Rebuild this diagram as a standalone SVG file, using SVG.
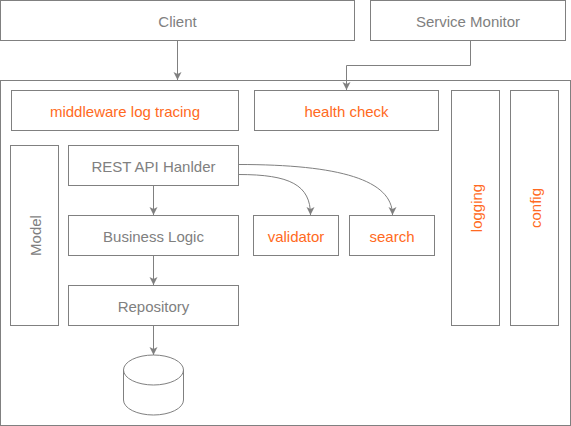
<svg xmlns="http://www.w3.org/2000/svg" width="571" height="426" viewBox="0 0 571 426">
<style>
rect, .cyl { fill: #ffffff; stroke: #808080; stroke-width: 1; }
text { font-family: "Liberation Sans", Arial, sans-serif; font-size: 15px; text-anchor: middle; dominant-baseline: central; }
.g { fill: #808080; }
.o { fill: #ff6a22; }
.c { fill: none; stroke: #808080; stroke-width: 1; }
</style>
<defs>
<marker id="ah" markerWidth="10" markerHeight="10" refX="8" refY="4" orient="auto" markerUnits="userSpaceOnUse">
<path d="M0,0 L8,4 L0,8 L2,4 Z" fill="#808080"/>
</marker>
</defs>
<g id="client"><rect x="0.5" y="0.5" width="354" height="40"/><text class="g" x="177.5" y="21">Client</text></g>
<g id="service-monitor"><rect x="370.5" y="0.5" width="195" height="40"/><text class="g" x="468" y="21">Service Monitor</text></g>
<g id="container"><rect x="0.5" y="80.5" width="570" height="345"/></g>
<g id="middleware"><rect x="11.5" y="90.5" width="227" height="40"/><text class="o" x="125" y="111">middleware log tracing</text></g>
<g id="health-check"><rect x="254.5" y="90.5" width="184" height="40"/><text class="o" x="346.5" y="111">health check</text></g>
<g id="logging"><rect x="451.5" y="90.5" width="48" height="235"/><text class="o" transform="translate(476,208) rotate(-90)">logging</text></g>
<g id="config"><rect x="510.5" y="90.5" width="48" height="235"/><text class="o" transform="translate(535,208) rotate(-90)">config</text></g>
<g id="model"><rect x="10.5" y="145.5" width="48" height="180"/><text class="g" transform="translate(35,235.5) rotate(-90)">Model</text></g>
<g id="rest"><rect x="68.5" y="145.5" width="170" height="40"/><text class="g" x="153.5" y="166">REST API Hanlder</text></g>
<g id="business"><rect x="68.5" y="215.5" width="170" height="40"/><text class="g" x="153.5" y="236">Business Logic</text></g>
<g id="validator"><rect x="253.5" y="215.5" width="85" height="40"/><text class="o" x="296" y="236">validator</text></g>
<g id="search"><rect x="349.5" y="215.5" width="85" height="40"/><text class="o" x="392" y="236">search</text></g>
<g id="repository"><rect x="68.5" y="285.5" width="170" height="40"/><text class="g" x="153.5" y="306">Repository</text></g>
<g id="database">
<path class="cyl" d="M123.5,370 L123.5,400 A30,15 0 0 0 183.5,400 L183.5,370 A30,15 0 0 0 123.5,370 Z"/>
<path class="c" d="M123.5,370 A30,15 0 0 0 183.5,370"/>
</g>
<g id="connectors">
<path class="c" d="M177.5,40.5 L177.5,80" marker-end="url(#ah)"/>
<path class="c" d="M470.5,40.5 L470.5,65.5 L346.5,65.5 L346.5,90" marker-end="url(#ah)"/>
<path class="c" d="M153.5,185.5 L153.5,215" marker-end="url(#ah)"/>
<path class="c" d="M153.5,255.5 L153.5,285" marker-end="url(#ah)"/>
<path class="c" d="M153.5,325.5 L153.5,355" marker-end="url(#ah)"/>
<path class="c" d="M238.5,174.5 C290,174.5 310.5,185 310.5,215" marker-end="url(#ah)"/>
<path class="c" d="M238.5,164.5 C340,164.5 392.5,180 392.5,215" marker-end="url(#ah)"/>
</g>
</svg>
